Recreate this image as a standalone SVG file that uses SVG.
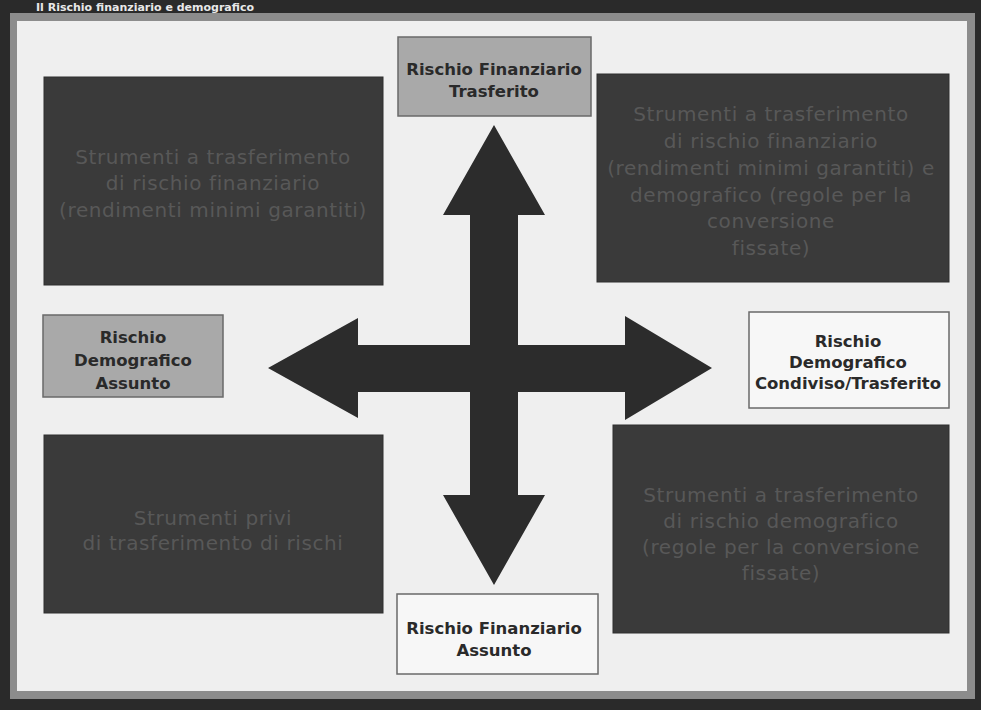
<svg xmlns="http://www.w3.org/2000/svg" width="981" height="710" viewBox="0 0 981 710">
<style>
.dark{fill:#3a3a3a;stroke:#2e2e2e;stroke-width:1}
.dt{font-family:"DejaVu Sans",Verdana,sans-serif;font-size:20px;letter-spacing:0.6px;fill:#585858;text-anchor:middle}
.lbl{font-family:"DejaVu Sans",Verdana,sans-serif;font-size:16.5px;font-weight:bold;fill:#2a2a2a;text-anchor:middle}
.gbox{fill:#a9a9a9;stroke:#6a6a6a;stroke-width:1.5}
.wbox{fill:#f7f7f7;stroke:#6a6a6a;stroke-width:1.5}
</style>
<rect x="0" y="0" width="981" height="710" fill="#2a2a2a"/>
<text x="36" y="11" font-family="DejaVu Sans,Verdana,sans-serif" font-size="11" font-weight="bold" fill="#e8e8e8">Il Rischio finanziario e demografico</text>
<rect x="10" y="13" width="965" height="686" fill="#8c8c8c"/>
<rect x="17" y="21" width="950" height="670" fill="#efefef"/>

<g id="connectors">
<path d="M494 125 L545 215 L518 215 L518 345 L625 345 L625 316 L712 368 L625 420 L625 392 L518 392 L518 495 L545 495 L494 585 L443 495 L470 495 L470 392 L358 392 L358 418 L268 368 L358 318 L358 345 L470 345 L470 215 L443 215 Z" fill="#2c2c2c"/>
</g>

<g id="box-tl">
<rect class="dark" x="44" y="77" width="339" height="208"/>
<text class="dt" x="213" y="164">Strumenti a trasferimento</text>
<text class="dt" x="213" y="190">di rischio finanziario</text>
<text class="dt" x="213" y="217">(rendimenti minimi garantiti)</text>
</g>
<g id="box-tr">
<rect class="dark" x="597" y="74" width="352" height="208"/>
<text class="dt" x="771" y="121">Strumenti a trasferimento</text>
<text class="dt" x="771" y="148">di rischio finanziario</text>
<text class="dt" x="771" y="175">(rendimenti minimi garantiti) e</text>
<text class="dt" x="771" y="202">demografico (regole per la</text>
<text class="dt" x="771" y="228">conversione</text>
<text class="dt" x="771" y="255">fissate)</text>
</g>
<g id="box-bl">
<rect class="dark" x="44" y="435" width="339" height="178"/>
<text class="dt" x="213" y="525">Strumenti privi</text>
<text class="dt" x="213" y="550">di trasferimento di rischi</text>
</g>
<g id="box-br">
<rect class="dark" x="613" y="425" width="336" height="208"/>
<text class="dt" x="781" y="502">Strumenti a trasferimento</text>
<text class="dt" x="781" y="528">di rischio demografico</text>
<text class="dt" x="781" y="554">(regole per la conversione</text>
<text class="dt" x="781" y="580">fissate)</text>
</g>

<g id="lbl-top">
<rect class="gbox" x="398" y="37" width="193" height="79"/>
<text class="lbl" x="494" y="75">Rischio Finanziario</text>
<text class="lbl" x="494" y="97">Trasferito</text>
</g>
<g id="lbl-left">
<rect class="gbox" x="43" y="315" width="180" height="82"/>
<text class="lbl" x="133" y="343">Rischio</text>
<text class="lbl" x="133" y="366">Demografico</text>
<text class="lbl" x="133" y="389">Assunto</text>
</g>
<g id="lbl-right">
<rect class="wbox" x="749" y="312" width="200" height="96"/>
<text class="lbl" x="848" y="347">Rischio</text>
<text class="lbl" x="848" y="368">Demografico</text>
<text class="lbl" x="848" y="389">Condiviso/Trasferito</text>
</g>
<g id="lbl-bottom">
<rect class="wbox" x="397" y="594" width="201" height="80"/>
<text class="lbl" x="494" y="634">Rischio Finanziario</text>
<text class="lbl" x="494" y="656">Assunto</text>
</g>
</svg>
